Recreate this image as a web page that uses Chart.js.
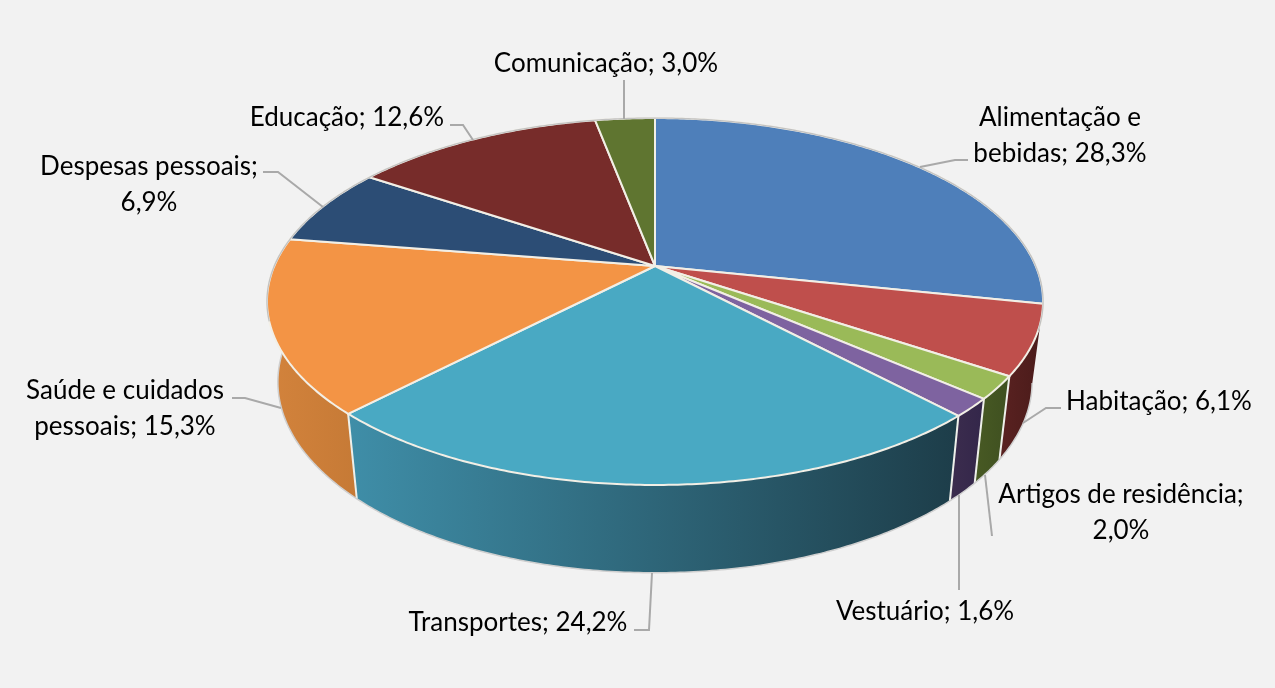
<!DOCTYPE html>
<html><head><meta charset="utf-8">
<style>html,body{margin:0;padding:0;background:#f2f2f2}canvas{display:block}</style>
<script src="https://cdn.jsdelivr.net/npm/chart.js@4"></script>
</head><body>
<canvas id="c" width="1275" height="688"></canvas>
<script>
const categories = ["Alimentação e bebidas","Habitação","Artigos de residência","Vestuário","Transportes","Saúde e cuidados pessoais","Despesas pessoais","Educação","Comunicação"];
const values = [28.3,6.1,2.0,1.6,24.2,15.3,6.9,12.6,3.0];
const faceColors = ["#4e7fba","#bf4f4c","#9aba58","#7e63a0","#49a9c3","#f39445","#2c4d75","#772c2a","#5f7530"];
const wallStart = [null,"#5a2221","#485a24","#3c2d4e","#3f8ea8",  "#d3833c",null,null,null];
const wallEnd   = [null,"#4a1b1a","#3f5020","#33264a","#1d3d49",  "#c67a36",null,null,null];
const labelLines = [["Alimentação e","bebidas; 28,3%"],["Habitação; 6,1%"],["Artigos de residência;","2,0%"],["Vestuário; 1,6%"],["Transportes; 24,2%"],["Saúde e cuidados","pessoais; 15,3%"],["Despesas pessoais;","6,9%"],["Educação; 12,6%"],["Comunicação; 3,0%"]];
const labelAnchors = [[1060,117.5],[1159,401.5],[1121,494.5],[925,611.5],[518,622.5],[125,390.5],[149,166.5],[347,117.5],[606,63.5]];
const leaders = [
 [[968,160],[955,160],[920,167]],
 [[1061,408],[1046,408],[1023,423]],
 [[992,536],[985,475]],
 [[959,590],[959,495]],
 [[634,630],[649,630],[652,573]],
 [[232,398],[245,398],[281,408]],
 [[263,172],[278,172],[323,207]],
 [[450,125],[463,125],[473,140]],
 [[624,80],[624,119]]
];
/* perspective of the disc */
const K=-0.1935, CX=655;
const TOP={cy:266,a:176.6,b:380.7}, BOT={cy:345,a:183.7,b:370};
function proj(ang,p){const x=Math.cos(ang),y=Math.sin(ang),d=1+K*y;return [CX+p.b*x/d,p.cy+p.a*y/d];}
function arcPts(a0,a1,p){const n=Math.max(2,Math.ceil(Math.abs(a1-a0)/0.01));const r=[];for(let i=0;i<=n;i++)r.push(proj(a0+(a1-a0)*i/n,p));return r;}

class Arc3D extends Chart.ArcElement{
  static id='arc3d';
  draw(ctx){
    const pts=arcPts(this.startAngle,this.endAngle,TOP);
    ctx.save();
    ctx.beginPath();ctx.moveTo(CX,TOP.cy);pts.forEach(q=>ctx.lineTo(q[0],q[1]));ctx.closePath();
    ctx.fillStyle=this.options.backgroundColor;ctx.fill();
    ctx.strokeStyle=this.options.borderColor;ctx.lineWidth=this.options.borderWidth;ctx.lineJoin='round';ctx.stroke();
    ctx.restore();
  }
}
class Pie3D extends Chart.PieController{
  static id='pie3d';
  static defaults={...Chart.PieController.defaults,dataElementType:'arc3d'};
  static overrides=Chart.PieController.overrides;
}
Chart.register(Arc3D,Pie3D);

const disc={
  id:'disc',
  beforeDatasetsDraw(chart){
    const ctx=chart.ctx,arcs=chart.getDatasetMeta(0).data;
    arcs.forEach((el,i)=>{
      if(!wallStart[i])return;
      const t=arcPts(el.startAngle,el.endAngle,TOP),b=arcPts(el.startAngle,el.endAngle,BOT);
      const xs=t.concat(b).map(q=>q[0]);const x0=Math.min(...xs),x1=Math.max(...xs);
      const g=ctx.createLinearGradient(x0,0,x1,0);
      g.addColorStop(0,wallStart[i]);g.addColorStop(1,wallEnd[i]);
      ctx.beginPath();t.forEach((q,j)=>j?ctx.lineTo(q[0],q[1]):ctx.moveTo(q[0],q[1]));
      b.reverse().forEach(q=>ctx.lineTo(q[0],q[1]));ctx.closePath();
      ctx.fillStyle=g;ctx.fill();
    });
    /* wall separators */
    ctx.strokeStyle='#eef0ea';ctx.lineWidth=2;
    arcs.forEach((el,i)=>{
      if(i<2||i>5)return;
      const s=el.startAngle,p=proj(s,TOP),q=proj(s,BOT);
      ctx.beginPath();ctx.moveTo(p[0],p[1]);ctx.lineTo(q[0],q[1]);ctx.stroke();
    });
    /* bottom rim */
    ctx.strokeStyle='#cfcfcf';ctx.lineWidth=1.5;
    ctx.beginPath();arcPts(0.2,Math.PI+0.12,BOT).forEach((q,j)=>j?ctx.lineTo(q[0],q[1]):ctx.moveTo(q[0],q[1]));ctx.stroke();
  },
  afterDatasetsDraw(chart){
    const ctx=chart.ctx;
    /* back rim of the top face */
    ctx.strokeStyle='#c2c2c2';ctx.lineWidth=1.3;
    ctx.beginPath();arcPts(Math.PI-0.3,2*Math.PI+0.35,TOP).forEach((q,j)=>j?ctx.lineTo(q[0],q[1]):ctx.moveTo(q[0],q[1]));ctx.stroke();
    /* leader lines */
    ctx.strokeStyle='#a9a9a9';ctx.lineWidth=2;ctx.lineJoin='miter';
    leaders.forEach(l=>{ctx.beginPath();l.forEach((q,j)=>j?ctx.lineTo(q[0],q[1]):ctx.moveTo(q[0],q[1]));ctx.stroke();});
    /* data labels */
    ctx.fillStyle='#000';ctx.font='26px Lato';ctx.textAlign='center';ctx.textBaseline='middle';
    labelLines.forEach((ls,i)=>ls.forEach((s,j)=>ctx.fillText(s,labelAnchors[i][0],labelAnchors[i][1]+j*36)));
  }
};

new Chart(document.getElementById('c'),{
  type:'pie3d',
  data:{labels:categories,datasets:[{data:values,backgroundColor:faceColors,borderColor:'#f2efe6',borderWidth:2}]},
  options:{responsive:false,animation:false,plugins:{legend:{display:false},tooltip:{enabled:false},title:{display:false}}},
  plugins:[disc]
});
</script>
</body></html>
